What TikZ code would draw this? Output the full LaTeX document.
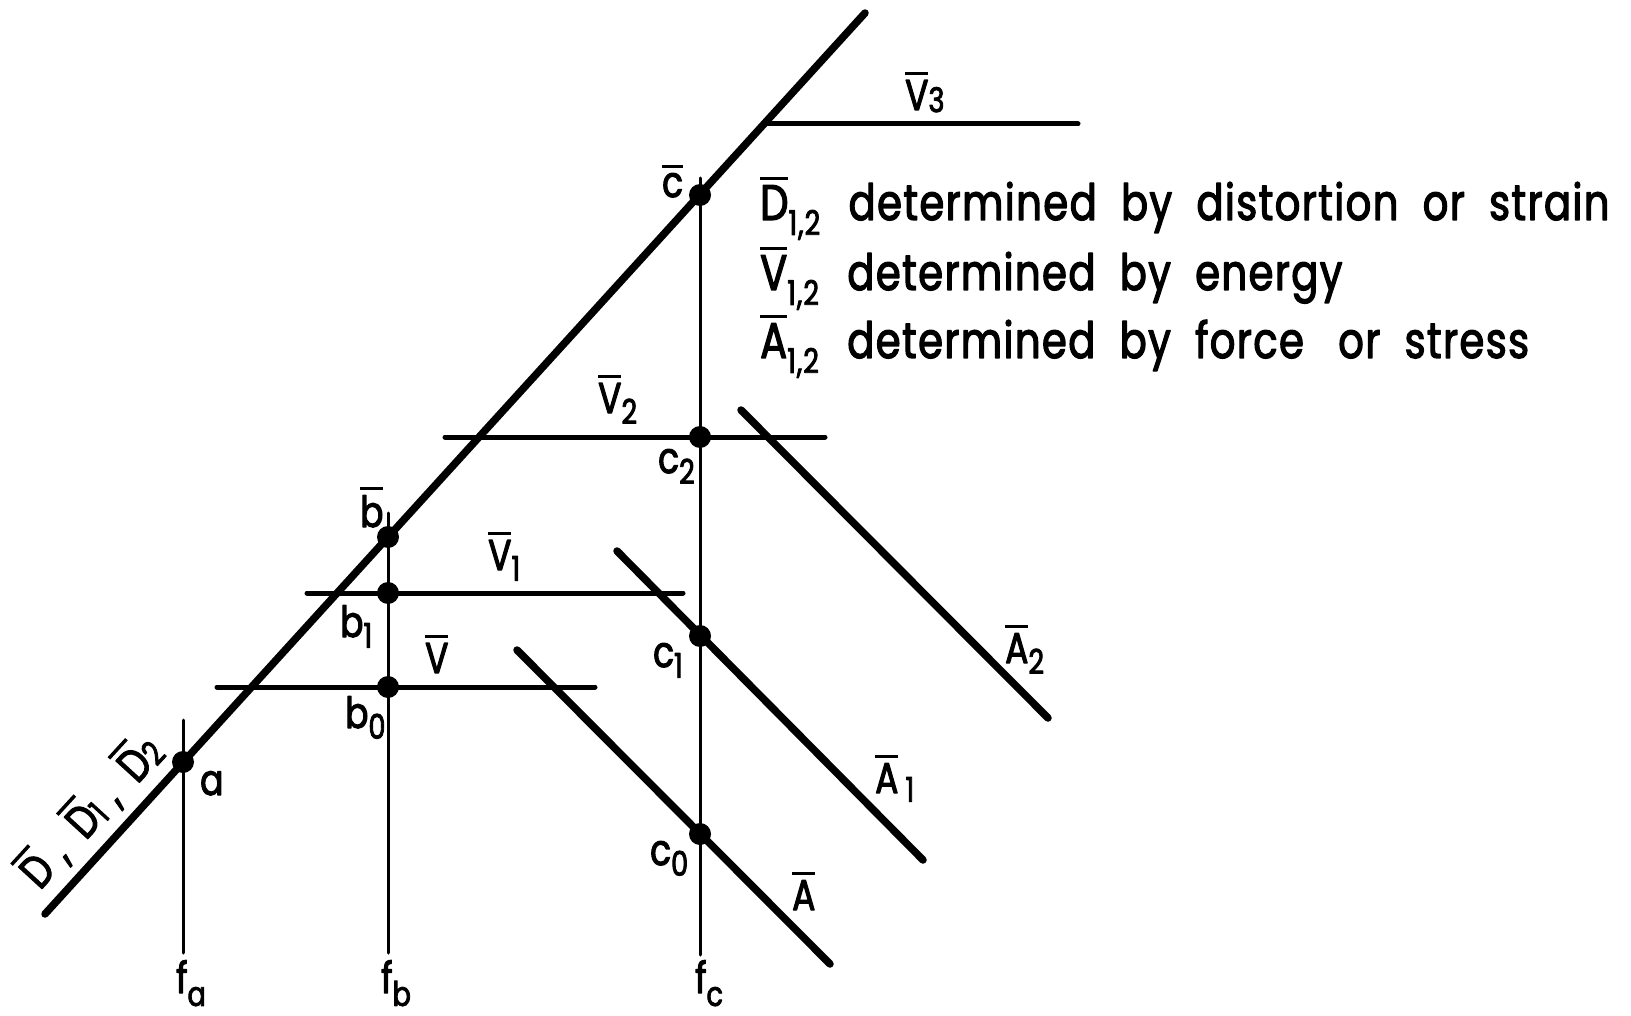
\documentclass[tikz,border=0pt]{standalone}
\usepackage{fontspec}
\setmainfont{Poppins}[FakeStretch=0.8, FakeBold=2.5, WordSpace=2, LetterSpace=3]
\newcommand\ov[1]{\leavevmode\vbox{\hrule height 3.5pt\kern 5pt\hbox{#1}}}
\newcommand\lo[2][0.25em]{\raisebox{-#1}{\fontsize{34}{34}\selectfont #2}}
\tikzset{
  thick line/.style={line width=7.5pt},
  mid line/.style={line width=5pt},
  thin line/.style={line width=3pt},
  lbl/.style={inner sep=0pt, anchor=base west, font=\fontsize{43}{50}\selectfont},
  txt/.style={inner sep=0pt, anchor=base west, font=\fontsize{50}{60}\selectfont}
}
\begin{document}
\begin{tikzpicture}[declare function={r=11;}, x=1pt, y=-1pt, line cap=round, line join=round]
\useasboundingbox (0,0) rectangle (1631,1016);
% the D line
\draw[thick line] (45,914) coordinate (d0) -- (865,13) coordinate (d1);
% points
\coordinate (a)  at (183,762);
\coordinate (bt) at (388,537);
\coordinate (b1) at (388,593);
\coordinate (b0) at (388,687);
\coordinate (ct) at (700,195);
\coordinate (c2) at (700,437);
\coordinate (c1) at (700,636);
\coordinate (c0) at (700,834);
% verticals
\draw[thin line] (183,720) coordinate (ta) -- (183,953) coordinate (fa);
\draw[thin line] (388,513) coordinate (tb) -- (388,953) coordinate (fb);
\draw[thin line] (700,178) coordinate (tc) -- (700,955) coordinate (fc);
% V lines
\draw[mid line] (765,124) coordinate (v3l) -- (1078,124) coordinate (v3r);
\draw[mid line] (445,437) coordinate (v2l) -- (825,437) coordinate (v2r);
\draw[mid line] (307,593) coordinate (v1l) -- (683,593) coordinate (v1r);
\draw[mid line] (217,687) coordinate (v0l) -- (595,687) coordinate (v0r);
% A lines
\draw[thick line] (517,650) coordinate (a0t) -- (830,964) coordinate (a0b);
\draw[thick line] (617,551) coordinate (a1t) -- (923,860) coordinate (a1b);
\draw[thick line] (741,410) coordinate (a2t) -- (1048,718) coordinate (a2b);
\foreach \p in {a,bt,b1,b0,ct,c2,c1,c0}
  \fill (\p) circle (r);
% labels
\node[lbl] (lv3) at (905,110) {\ov{V}\lo[0.05em]{3}};
\node[lbl] (lv2) at (598,413) {\ov{V}\lo{2}};
\node[lbl] (lv1) at (488,570) {\ov{V}\lo{1}};
\node[lbl] (lv0) at (425,673) {\ov{V}};
\node[lbl] (la0) at (792,910) {\ov{A}};
\node[lbl] (la1) at (875,793) {\ov{A}\,\lo[0.2em]{1}};
\node[lbl] (la2) at (1005,663) {\ov{A}\lo{2}};
\node[lbl] (lct) at (662,197) {\ov{c}};
\node[lbl] (lbt) at (360,527) {\ov{b}};
\node[lbl] (lb1) at (340,637) {b\lo{1}};
\node[lbl] (lb0) at (345,728) {b\lo{0}};
\node[lbl] (lc2) at (658,473) {c\lo{2}};
\node[lbl] (lc1) at (653,667) {c\lo{1}};
\node[lbl] (lc0) at (650,865) {c\lo{0}};
\node[lbl] (la)  at (200,795) {a};
\node[lbl] (lfa) at (176,993) {f\lo[0.3em]{a}};
\node[lbl] (lfb) at (381,993) {f\lo[0.3em]{b}};
\node[lbl] (lfc) at (695,993) {f\lo[0.3em]{c}};
\node[lbl, rotate=47.5, font=\fontsize{46}{50}\selectfont] (ld) at (40,891)
  {\ov{D}\hspace{12pt},\ \ov{D}\lo[0.05em]{1}\hspace{12pt},\ \ov{D}\lo[0.05em]{2}};
% legend
\node[txt] (t1) at (760,220) {\ov{D}\lo[0.3em]{1,2}\hspace{4pt} determined by distortion or strain};
\node[txt] (t2) at (760,290) {\ov{V}\lo[0.3em]{1,2}\hspace{4pt} determined by energy};
\node[txt] (t3) at (760,358) {\ov{A}\lo[0.3em]{1,2}\hspace{4pt} determined by force\hspace{10pt} or stress};
\end{tikzpicture}
\end{document}
